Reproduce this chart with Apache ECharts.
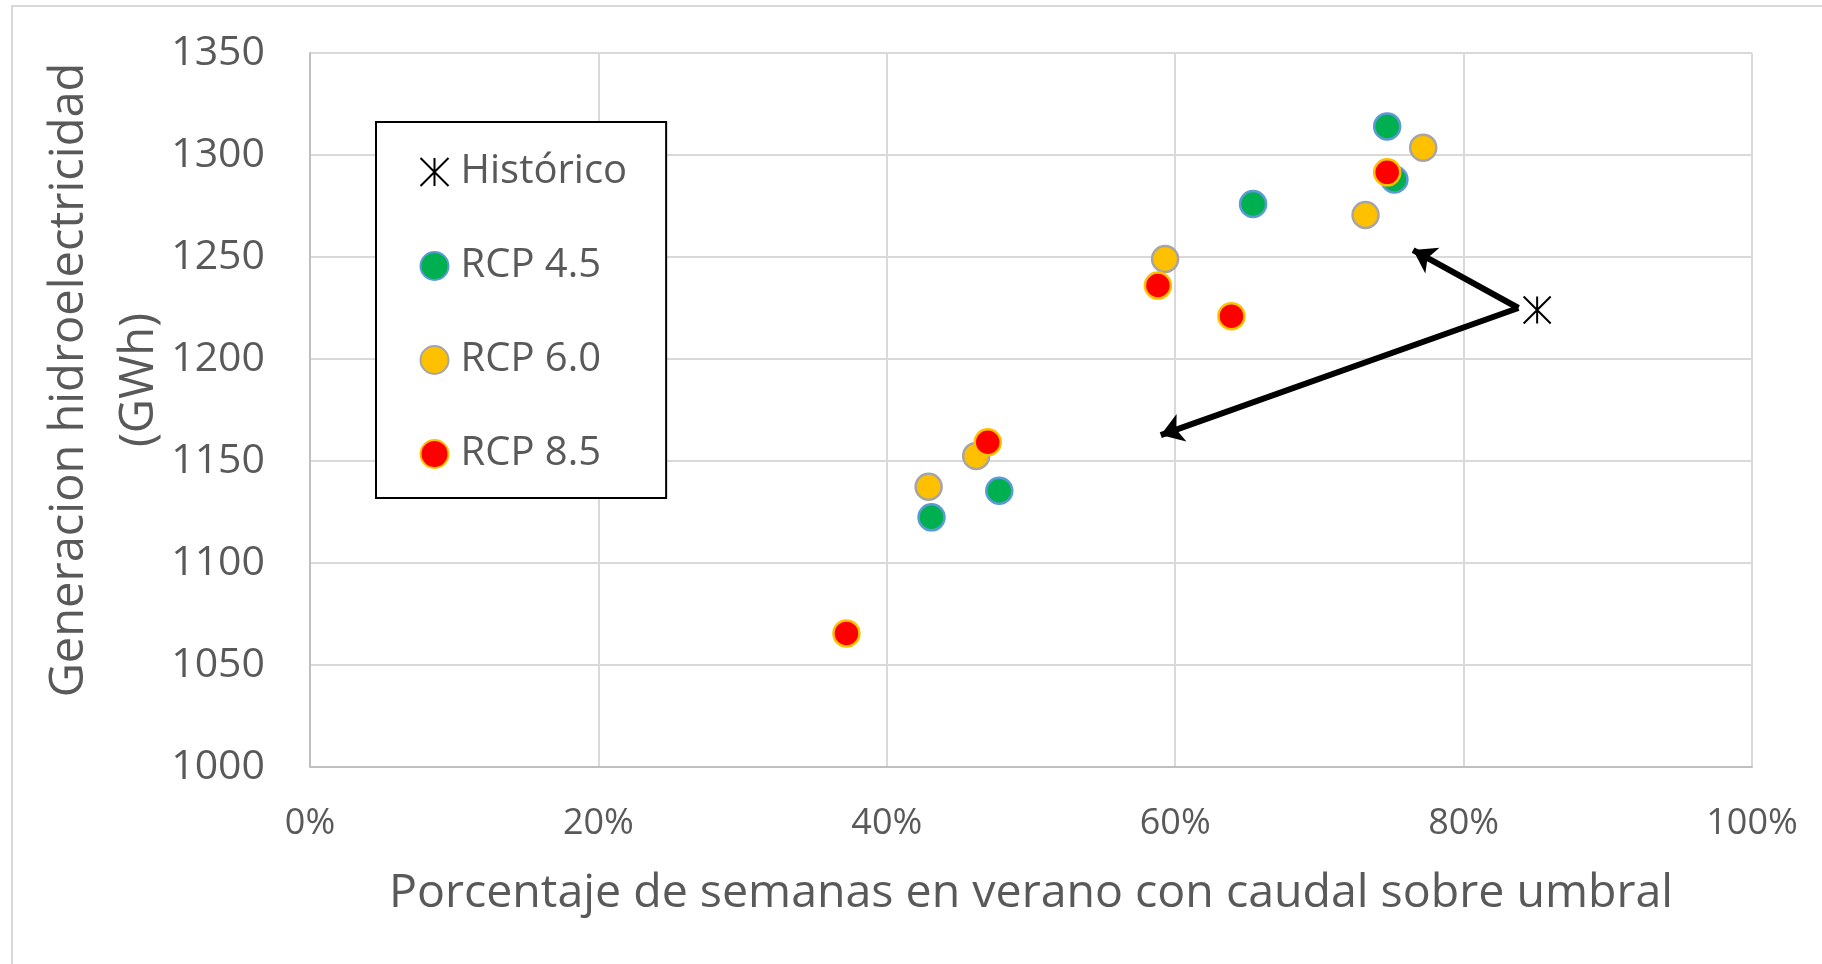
<!DOCTYPE html>
<html>
<head>
<meta charset="utf-8">
<script src="https://cdn.jsdelivr.net/npm/echarts@6/dist/echarts.min.js"></script>
<style>html,body{margin:0;padding:0;background:#fff}#c{width:1822px;height:964px}</style>
</head>
<body>
<div id="c"></div>
<script>
// ---- data (x: % of summer weeks above threshold, y: GWh) ----
const historico = [[85.1, 1224]];
const rcp45 = [[74.7, 1314], [75.2, 1288], [65.4, 1276], [43.1, 1122.4], [47.8, 1135.4]];
const rcp60 = [[77.2, 1303.6], [73.2, 1270.6], [59.3, 1249], [46.2, 1152.5], [42.9, 1137.4]];
const rcp85 = [[74.7, 1291.5], [58.8, 1236], [63.9, 1221], [47.0, 1159.2], [37.2, 1065.5]];
const arrowFrom = [83.8, 1225];
const arrowTo = [[76.5, 1253.4], [59.0, 1162.7]];
const seriesNames = ['Histórico', 'RCP 4.5', 'RCP 6.0', 'RCP 8.5'];
const xTicks = { min: 0, max: 100, interval: 20 };
const yTicks = { min: 1000, max: 1350, interval: 50 };

const FONT = 'Open Sans';
const TXT = '#595959';
const star = 'path://M0 0L20 20M20 0L0 20M10 0L10 20';

const chart = echarts.init(document.getElementById('c'));
chart.setOption({
  animation: false,
  backgroundColor: '#fff',
  textStyle: { fontFamily: FONT },
  graphic: [{
    type: 'rect', silent: true, z: -10,
    shape: { x: 12, y: 6, width: 1900, height: 1000 },
    style: { fill: 'none', stroke: '#d9d9d9', lineWidth: 2 }
  }],
  grid: { left: 310, right: 70, top: 53, bottom: 197, containLabel: false },
  legend: {
    data: seriesNames,
    orient: 'vertical',
    left: 376, top: 122,
    padding: [30, 39, 24, 42],
    itemWidth: 28, itemHeight: 28, itemGap: 54,
    backgroundColor: '#fff',
    borderColor: '#000', borderWidth: 2,
    textStyle: { fontFamily: FONT, fontSize: 40, color: TXT, width: 188, padding: [0, 0, 0, 7] },
    z: 10
  },
  xAxis: {
    type: 'value', min: xTicks.min, max: xTicks.max, interval: xTicks.interval,
    name: 'Porcentaje de semanas en verano con caudal sobre umbral',
    nameLocation: 'middle', nameGap: 103, nameMoveOverlap: false,
    nameTextStyle: { fontFamily: FONT, fontSize: 46.5, color: TXT },
    axisLine: { show: true, lineStyle: { color: '#bfbfbf', width: 2 } },
    axisTick: { show: false },
    axisLabel: { formatter: '{value}%', fontFamily: FONT, fontSize: 36, color: TXT, margin: 39 },
    splitLine: { show: true, lineStyle: { color: '#d9d9d9', width: 2 } }
  },
  yAxis: {
    type: 'value', min: yTicks.min, max: yTicks.max, interval: yTicks.interval,
    name: 'Generacion hidroelectricidad\n(GWh)',
    nameLocation: 'middle', nameRotate: 90, nameGap: 135, nameMoveOverlap: false,
    nameTextStyle: { fontFamily: FONT, fontSize: 47, color: TXT, lineHeight: 70, padding: [0, 0, 0, 60] },
    axisLine: { show: true, lineStyle: { color: '#bfbfbf', width: 2 } },
    axisTick: { show: false },
    axisLabel: { formatter: v => String(v), fontFamily: FONT, fontSize: 41, color: TXT, margin: 45 },
    splitLine: { show: true, lineStyle: { color: '#d9d9d9', width: 2 } }
  },
  series: [
    {
      name: seriesNames[0], type: 'scatter', data: historico,
      symbol: star, symbolSize: 27,
      itemStyle: { color: 'none', borderColor: '#000', borderWidth: 2, opacity: 1 }, z: 3
    },
    {
      name: seriesNames[1], type: 'scatter', data: rcp45,
      symbol: 'circle', symbolSize: 26,
      itemStyle: { color: '#00B050', borderColor: '#5B9BD5', borderWidth: 2.5, opacity: 1 }, z: 3
    },
    {
      name: seriesNames[2], type: 'scatter', data: rcp60,
      symbol: 'circle', symbolSize: 26,
      itemStyle: { color: '#FFC000', borderColor: '#A5A5A5', borderWidth: 2.5, opacity: 1 }, z: 4
    },
    {
      name: seriesNames[3], type: 'scatter', data: rcp85,
      symbol: 'circle', symbolSize: 26,
      itemStyle: { color: '#FF0000', borderColor: '#FFC000', borderWidth: 2.5, opacity: 1 }, z: 5
    },
    {
      name: 'flechas', type: 'lines', coordinateSystem: 'cartesian2d',
      data: arrowTo.map(t => ({ coords: [arrowFrom, t] })),
      symbol: ['none', 'arrow'], symbolSize: 22,
      lineStyle: { color: '#000', width: 6, opacity: 1, curveness: 0 },
      silent: true, z: 6
    }
  ]
});
</script>
</body>
</html>
